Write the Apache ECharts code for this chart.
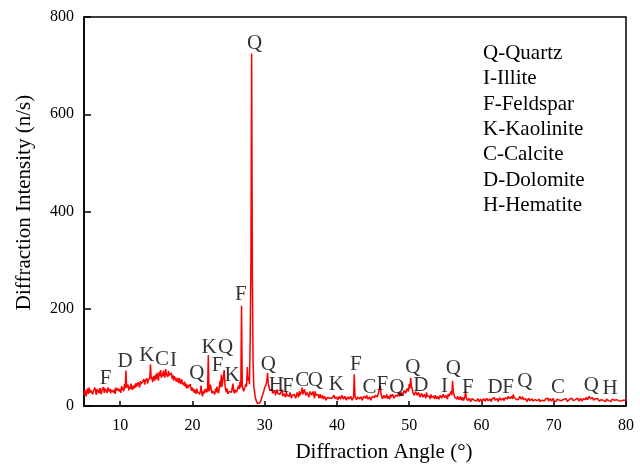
<!DOCTYPE html>
<html><head><meta charset="utf-8">
<script src="https://cdn.jsdelivr.net/npm/echarts@6/dist/echarts.min.js"></script>
<style>html,body{margin:0;padding:0;background:#fff}#chart{width:640px;height:468px}</style>
</head><body><div id="chart"></div>
<script>
// XRD scan: start angle and step (degrees 2-theta)
const scanStart = 5;
const scanStep = 0.1;
// Intensity (n/s), 10 readings per degree (one row per degree, 5..80)
const intensity = [
  22,34,28,20,31,36,25,38,27,33,
  29,36,24,31,27,38,30,23,35,28,
  33,26,37,29,24,34,30,39,27,36,
  40,32,27,38,42,30,35,26,33,29,
  36,28,34,25,38,31,27,36,40,30,
  35,27,41,33,38,30,45,36,73,38,
  36,44,32,40,35,46,38,33,42,36,
  44,38,47,40,36,49,43,38,51,45,
  42,50,46,55,44,52,48,57,46,53,
  50,58,86,55,60,49,57,62,52,64,
  55,68,60,52,70,62,74,58,66,61,
  73,64,58,76,66,70,60,72,63,67,
  60,68,56,63,52,61,57,64,50,58,
  54,47,58,50,45,55,48,52,43,50,
  40,46,36,44,38,42,34,45,37,31,
  38,30,35,27,33,25,36,29,32,26,
  24,31,42,27,20,30,25,34,28,35,
  28,33,105,30,36,44,40,26,31,35,
  30,24,36,28,40,32,26,34,52,38,
  64,40,42,36,74,45,33,28,36,25,
  22,30,34,26,28,36,46,32,26,33,
  36,28,30,24,42,35,50,38,206,42,
  36,30,28,34,46,40,80,52,60,45,
  140,300,725,260,90,40,30,18,12,8,
  5,3,4,6,8,12,14,22,26,32,
  38,34,44,52,68,46,40,32,30,36,
  34,26,24,30,32,22,28,34,26,22,
  30,24,22,28,34,20,26,30,22,18,
  30,22,25,18,20,28,28,16,22,26,
  18,24,26,16,20,28,24,18,30,22,
  22,30,38,24,26,34,32,22,24,28,
  28,18,20,30,34,22,25,30,22,16,
  30,22,18,26,24,16,20,24,16,20,
  22,14,15,20,19,12,14,18,20,15,
  16,20,12,16,18,12,22,16,14,19,
  18,12,13,20,20,14,15,22,22,14,
  14,20,18,12,12,19,20,14,16,20,
  19,12,14,18,65,20,18,13,15,19,
  20,14,14,19,18,12,12,20,22,16,
  16,22,20,14,13,19,18,12,15,20,
  22,16,17,22,24,18,19,24,25,20,
  42,24,20,15,16,22,22,16,18,24,
  15,20,20,14,24,18,17,24,22,16,
  16,22,26,18,20,26,28,20,22,28,
  30,22,24,32,34,26,28,36,38,30,
  45,36,58,42,36,28,28,22,24,30,
  30,22,22,28,26,18,20,26,24,18,
  18,24,22,16,28,20,17,24,20,14,
  24,18,16,22,20,14,22,18,15,20,
  20,14,14,22,22,16,18,24,24,17,
  16,22,20,14,25,20,18,24,30,22,
  52,30,26,18,18,14,14,20,20,13,
  15,20,12,16,18,11,14,18,30,16,
  16,11,12,16,14,9,10,15,15,11,
  12,16,16,10,11,15,14,9,9,14,
  13,9,10,15,15,10,12,16,16,11,
  11,15,14,9,10,15,13,17,17,12,
  12,16,15,9,10,17,18,12,13,16,
  16,11,12,17,19,13,14,20,22,15,
  15,19,20,14,24,18,16,21,14,12,
  18,13,12,20,22,14,15,19,13,10,
  10,15,14,9,12,16,16,11,11,15,
  15,10,10,14,13,17,17,11,12,15,
  14,9,9,13,12,16,15,10,11,15,
  13,17,16,10,10,15,14,10,12,16,
  11,15,15,9,9,14,13,11,12,15,
  16,11,10,15,14,10,11,15,13,9,
  9,13,14,10,12,16,16,11,10,14,
  13,9,11,16,15,10,12,16,14,10,
  10,15,16,12,13,18,18,13,15,20,
  20,15,14,19,17,12,12,16,15,11,
  11,15,14,10,10,13,13,16,15,11,
  12,8,9,14,14,10,11,15,13,9,
  10,14,15,11,12,8,9,13,13,10,
  11,15,14,10,10,13,12,9,15,12,
  12
];
const xTicks = [10, 20, 30, 40, 50, 60, 70, 80];
// Peak identification letters, with the angle / height where each letter sits
const peakLetters = ['F','D','K','C','I','Q','K','F','Q','K','F','Q','Q','H','F','C','Q','K','F','C','F','Q','Q','D','I','Q','F','D','F','Q','C','Q','H'];
const peakAngles  = [8.0,10.7,13.7,15.8,17.4,20.6,22.3,23.5,24.6,25.5,26.7,28.6,30.5,31.6,33.2,35.2,37.0,39.9,42.6,44.5,46.3,48.3,50.5,51.6,54.9,56.1,58.1,61.9,63.7,66.0,70.6,75.2,77.8];
const peakHeights = [57,92,104,96,94,66,120,84,120,63,229,745,86,43,40,53,53,45,86,38,45,38,80,43,41,78,39,39,39,50,39,43,35];
const mineralKey = ['Q-Quartz','I-Illite','F-Feldspar','K-Kaolinite','C-Calcite','D-Dolomite','H-Hematite'];

const FONT = 'Liberation Serif';
const lineData = intensity.map((v, i) => [+(scanStart + i * scanStep).toFixed(2), v]);
const labelData = peakLetters.map((t, i) => ({ name: t, value: [peakAngles[i], peakHeights[i]] }));

const chart = echarts.init(document.getElementById('chart'), null, { renderer: 'canvas' });
chart.setOption({
  animation: false,
  backgroundColor: '#fff',
  grid: { left: 84, right: 14, top: 17, bottom: 59, show: true, borderColor: '#000', borderWidth: 1.5, backgroundColor: 'transparent' },
  xAxis: {
    type: 'value', min: 5, max: 80,
    name: 'Diffraction Angle (°)', nameLocation: 'middle', nameGap: 36,
    nameTextStyle: { fontFamily: FONT, fontSize: 21, color: '#000', padding: [0, 0, 0, 58] },
    axisLine: { lineStyle: { color: '#000', width: 1.5 } },
    axisTick: { inside: true, length: 5, lineStyle: { color: '#000', width: 1.5 }, customValues: xTicks },
    axisLabel: { fontFamily: FONT, fontSize: 16, color: '#000', margin: 12, customValues: xTicks },
    splitLine: { show: false }
  },
  yAxis: {
    type: 'value', min: 0, max: 800, interval: 200,
    name: 'Diffraction Intensity (n/s)', nameLocation: 'middle', nameGap: 49,
    nameTextStyle: { fontFamily: FONT, fontSize: 21, color: '#000', padding: [0, 0, 0, 18] },
    axisLine: { show: true, lineStyle: { color: '#000', width: 1.5 } },
    axisTick: { show: true, inside: true, length: 7, lineStyle: { color: '#000', width: 1.5 } },
    axisLabel: { fontFamily: FONT, fontSize: 16, color: '#000', margin: 10 },
    splitLine: { show: false }
  },
  graphic: [{
    type: 'text', left: 483, top: 41, silent: true,
    style: { text: mineralKey.join('\n'), fontFamily: FONT, fontSize: 21, lineHeight: 25.3, fill: '#000' }
  }],
  series: [
    {
      type: 'line', data: lineData, showSymbol: false, sampling: false, silent: true,
      lineStyle: { color: '#ff0000', width: 1.5 }, itemStyle: { color: '#ff0000' }, z: 2
    },
    {
      type: 'scatter', data: labelData, symbolSize: 0, silent: true, z: 5,
      itemStyle: { color: 'transparent' },
      label: { show: true, position: 'inside', formatter: '{b}', fontFamily: FONT, fontSize: 21, color: '#000' },
      emphasis: { disabled: true }
    }
  ]
});
</script>
</body></html>
